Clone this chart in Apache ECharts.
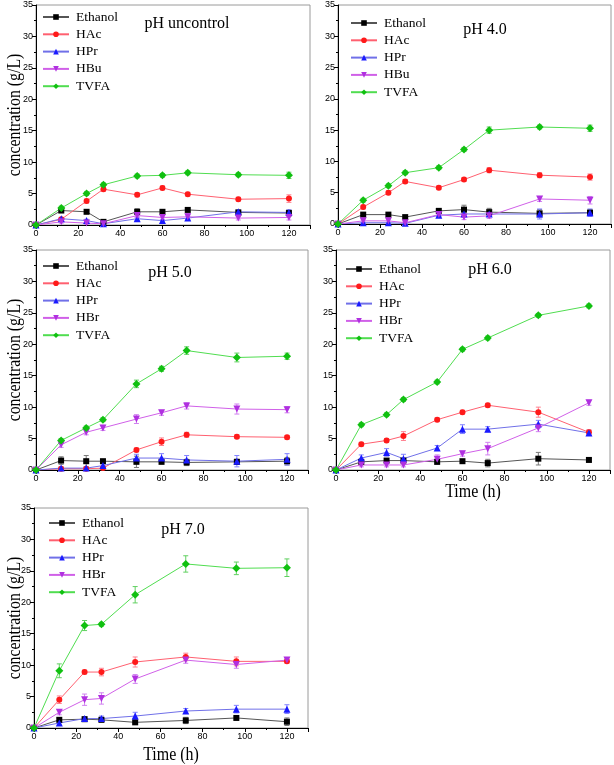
<!DOCTYPE html>
<html>
<head>
<meta charset="utf-8">
<script src="https://cdn.jsdelivr.net/npm/echarts@6/dist/echarts.min.js"></script>
<style>html,body{margin:0;padding:0;background:#fff}#c{width:614px;height:765px}</style>
</head>
<body>
<div id="c"></div>
<script>
// ---- Data ----
const time = [0, 12, 24, 32, 48, 60, 72, 96, 120];
const time7 = [0, 12, 24, 32, 48, 72, 96, 120];

// pH uncontrol
const unEthanol = [0, 2.3, 2.1, 0.5, 2.1, 2.1, 2.4, 2.0, 1.9];
const unHAc     = [0, 0.9, 3.8, 5.7, 4.8, 5.9, 4.9, 4.1, 4.2];
const unHPr     = [0, 1.0, 0.7, 0.2, 1.0, 0.7, 1.1, 2.1, 2.0];
const unHBu     = [0, 0.5, 0.3, 0.2, 1.5, 1.2, 1.3, 1.1, 1.2];
const unTVFA    = [0, 2.7, 5.0, 6.4, 7.8, 7.9, 8.3, 8.0, 7.9];
const unEthanolErr = [0, 0.2, 0.2, 0.2, 0.5, 0.2, 0.3, 0.2, 0.5];
const unHAcErr     = [0, 0.2, 0.3, 0.3, 0.3, 0.3, 0.3, 0.3, 0.6];
const unHPrErr     = [0, 0.2, 0.2, 0.2, 0.3, 0.2, 0.3, 0.3, 0.4];
const unHBuErr     = [0, 0.2, 0.2, 0.2, 0.3, 0.3, 0.5, 0.3, 0.4];
const unTVFAErr    = [0, 0.3, 0.3, 0.3, 0.3, 0.3, 0.3, 0.3, 0.5];

// pH 4.0
const p4Ethanol = [0, 1.5, 1.5, 1.1, 2.1, 2.3, 1.9, 1.7, 1.8];
const p4HAc     = [0, 2.7, 5.0, 6.8, 5.8, 7.1, 8.6, 7.8, 7.5];
const p4HPr     = [0, 0.2, 0.2, 0.1, 1.4, 1.6, 1.6, 1.6, 1.8];
const p4HBu     = [0, 0.5, 0.5, 0.2, 1.5, 1.1, 1.3, 4.0, 3.8];
const p4TVFA    = [0, 3.8, 6.1, 8.2, 9.0, 11.9, 15.0, 15.5, 15.3];
const p4EthanolErr = [0, 0.2, 0.2, 0.2, 0.3, 0.7, 0.6, 0.6, 0.5];
const p4HAcErr     = [0, 0.3, 0.3, 0.3, 0.3, 0.3, 0.4, 0.4, 0.5];
const p4HPrErr     = [0, 0.1, 0.1, 0.1, 0.2, 0.3, 0.3, 0.8, 0.6];
const p4HBuErr     = [0, 0.3, 0.3, 0.2, 0.3, 0.4, 0.4, 0.4, 0.6];
const p4TVFAErr    = [0, 0.3, 0.3, 0.3, 0.3, 0.3, 0.5, 0.3, 0.5];

// pH 5.0
const p5Ethanol = [0, 1.5, 1.4, 1.4, 1.3, 1.3, 1.2, 1.3, 1.4];
const p5HAc     = [0, 0.2, 0.2, 0.3, 3.2, 4.5, 5.6, 5.3, 5.2];
const p5HPr     = [0, 0.3, 0.3, 0.7, 1.9, 1.9, 1.6, 1.4, 1.7];
const p5HBr     = [0, 4.0, 6.0, 6.7, 8.1, 9.1, 10.2, 9.7, 9.6];
const p5TVFA    = [0, 4.7, 6.7, 8.0, 13.7, 16.1, 19.0, 17.9, 18.1];
const p5EthanolErr = [0, 0.6, 0.9, 0.3, 0.9, 0.3, 0.5, 0.4, 0.6];
const p5HAcErr     = [0, 0.2, 0.2, 0.2, 0.3, 0.6, 0.4, 0.3, 0.3];
const p5HPrErr     = [0, 0.2, 0.2, 0.3, 0.6, 0.7, 0.7, 0.9, 0.9];
const p5HBrErr     = [0, 0.4, 0.4, 0.4, 0.7, 0.4, 0.5, 0.8, 0.5];
const p5TVFAErr    = [0, 0.3, 0.3, 0.3, 0.6, 0.4, 0.6, 0.7, 0.5];

// pH 6.0
const p6Ethanol = [0, 1.3, 1.5, 1.5, 1.3, 1.4, 1.1, 1.8, 1.6];
const p6HAc     = [0, 4.1, 4.7, 5.4, 8.0, 9.2, 10.3, 9.2, 6.0];
const p6HPr     = [0, 1.9, 2.8, 1.8, 3.5, 6.5, 6.5, 7.3, 5.9];
const p6HBr     = [0, 0.8, 0.8, 0.8, 1.7, 2.6, 3.4, 6.7, 10.7];
const p6TVFA    = [0, 7.2, 8.8, 11.2, 14.0, 19.2, 21.0, 24.6, 26.1];
const p6EthanolErr = [0, 0.2, 0.3, 0.2, 0.4, 0.2, 0.6, 1.0, 0.2];
const p6HAcErr     = [0, 0.3, 0.3, 0.7, 0.3, 0.3, 0.3, 0.8, 0.4];
const p6HPrErr     = [0, 0.5, 0.6, 0.7, 0.4, 0.7, 0.4, 0.6, 0.4];
const p6HBrErr     = [0, 0.3, 0.3, 0.3, 0.7, 0.4, 1.0, 0.6, 0.4];
const p6TVFAErr    = [0, 0.3, 0.3, 0.3, 0.3, 0.3, 0.3, 0.3, 0.3];

// pH 7.0
const p7Ethanol = [0, 1.3, 1.4, 1.3, 0.9, 1.2, 1.6, 1.0];
const p7HAc     = [0, 4.5, 8.9, 8.9, 10.5, 11.3, 10.6, 10.6];
const p7HPr     = [0, 0.8, 1.5, 1.5, 1.9, 2.7, 3.0, 3.0];
const p7HBr     = [0, 2.5, 4.5, 4.7, 7.8, 10.8, 10.1, 10.8];
const p7TVFA    = [0, 9.1, 16.3, 16.5, 21.2, 26.1, 25.4, 25.5];
const p7EthanolErr = [0, 0.3, 0.3, 0.3, 0.2, 0.5, 0.2, 0.6];
const p7HAcErr     = [0, 0.6, 0.3, 0.6, 0.8, 0.6, 0.7, 0.3];
const p7HPrErr     = [0, 0.3, 0.3, 0.4, 0.6, 0.4, 0.6, 0.7];
const p7HBrErr     = [0, 0.4, 0.9, 0.9, 0.7, 0.5, 0.6, 0.3];
const p7TVFAErr    = [0, 1.1, 0.8, 0.3, 1.3, 1.3, 1.0, 1.4];

const xTicks = [0, 20, 40, 60, 80, 100, 120];
const yTicks = [0, 5, 10, 15, 20, 25, 30, 35];
const yTitle = 'concentration (g/L)';
const xTitle = 'Time (h)';

// ---- Panels (built from the arrays) ----
const panels = [
  { title: 'pH uncontrol', x: time, names: ['Ethanol', 'HAc', 'HPr', 'HBu', 'TVFA'],
    vals: [unEthanol, unHAc, unHPr, unHBu, unTVFA], errs: [unEthanolErr, unHAcErr, unHPrErr, unHBuErr, unTVFAErr] },
  { title: 'pH 4.0', x: time, names: ['Ethanol', 'HAc', 'HPr', 'HBu', 'TVFA'],
    vals: [p4Ethanol, p4HAc, p4HPr, p4HBu, p4TVFA], errs: [p4EthanolErr, p4HAcErr, p4HPrErr, p4HBuErr, p4TVFAErr] },
  { title: 'pH 5.0', x: time, names: ['Ethanol', 'HAc', 'HPr', 'HBr', 'TVFA'],
    vals: [p5Ethanol, p5HAc, p5HPr, p5HBr, p5TVFA], errs: [p5EthanolErr, p5HAcErr, p5HPrErr, p5HBrErr, p5TVFAErr] },
  { title: 'pH 6.0', x: time, names: ['Ethanol', 'HAc', 'HPr', 'HBr', 'TVFA'],
    vals: [p6Ethanol, p6HAc, p6HPr, p6HBr, p6TVFA], errs: [p6EthanolErr, p6HAcErr, p6HPrErr, p6HBrErr, p6TVFAErr] },
  { title: 'pH 7.0', x: time7, names: ['Ethanol', 'HAc', 'HPr', 'HBr', 'TVFA'],
    vals: [p7Ethanol, p7HAc, p7HPr, p7HBr, p7TVFA], errs: [p7EthanolErr, p7HAcErr, p7HPrErr, p7HBrErr, p7TVFAErr] }
];

// ---- Layout & style ----
const layout = [
  { left: 36, top: 5, width: 274, height: 220, yName: true, xName: false, title: [187, 24], legend: [42, 10] },
  { left: 338, top: 5, width: 274, height: 219, yName: false, xName: false, title: [485, 30], legend: [350, 16] },
  { left: 36, top: 250, width: 272, height: 220, yName: true, xName: false, title: [170, 273], legend: [42, 259] },
  { left: 336, top: 250, width: 274, height: 220, yName: false, xName: true, title: [490, 270], legend: [345, 262] },
  { left: 34, top: 508, width: 274, height: 220, yName: true, xName: true, title: [183, 530], legend: [48, 516] }
];
const styles = [
  { mark: '#000000', line: '#555555', err: '#777777', symbol: 'rect', size: 6 },
  { mark: '#ff1a1a', line: '#ff6070', err: '#ff8090', symbol: 'circle', size: 6 },
  { mark: '#1a1aff', line: '#7070e8', err: '#8080ff', symbol: 'triangle', size: 7 },
  { mark: '#b030e0', line: '#d060e8', err: '#d080f0', symbol: 'path://M0,0 L10,0 L5,9 Z', size: 7 },
  { mark: '#10c010', line: '#50dd50', err: '#60d060', symbol: 'diamond', size: 8 }
];
const SERIF = 'Liberation Serif';
const SANS = 'Liberation Sans';

const grids = [], xAxes = [], yAxes = [], series = [], legends = [], graphics = [];
panels.forEach((p, i) => {
  const L = layout[i];
  grids.push({ left: L.left, top: L.top, width: L.width, height: L.height, show: true,
    borderColor: '#9a9a9a', borderWidth: 1, backgroundColor: 'transparent' });
  xAxes.push({
    type: 'value', gridIndex: i, min: 0, max: 130, interval: 20,
    axisLine: { lineStyle: { color: '#000', width: 1 } },
    axisTick: { inside: false, length: 4, lineStyle: { color: '#000' } },
    minorTick: { show: true, splitNumber: 2, length: 2, lineStyle: { color: '#000' } },
    axisLabel: { fontFamily: SANS, fontSize: 9, color: '#000', margin: 4,
      formatter: v => (xTicks.indexOf(v) >= 0 ? String(v) : '') },
    splitLine: { show: false }
  });
  yAxes.push({
    type: 'value', gridIndex: i, min: 0, max: 35, interval: 5,
    axisLine: { show: true, lineStyle: { color: '#000', width: 1 } },
    axisTick: { show: true, inside: false, length: 4, lineStyle: { color: '#000' } },
    minorTick: { show: true, splitNumber: 2, length: 2, lineStyle: { color: '#000' } },
    axisLabel: { fontFamily: SANS, fontSize: 9, color: '#000', margin: 3,
      formatter: v => (yTicks.indexOf(v) >= 0 ? String(v) : '') },
    splitLine: { show: false }
  });
  if (L.yName) {
    graphics.push({
      type: 'text', x: 15, y: L.top + L.height / 2, rotation: Math.PI / 2, scaleX: 0.88,
      style: { text: yTitle, font: '18px "Liberation Serif"', fill: '#000', textAlign: 'center', textVerticalAlign: 'middle' }
    });
  }
  if (L.xName) {
    graphics.push({
      type: 'text', x: L.left + L.width / 2, y: L.top + L.height + (i === 4 ? 27 : 22), scaleX: 0.84,
      style: { text: xTitle, font: '19px "Liberation Serif"', fill: '#000', textAlign: 'center', textVerticalAlign: 'middle' }
    });
  }
  const legendData = [];
  p.names.forEach((nm, k) => {
    const st = styles[k];
    const sname = nm + '#' + i;
    legendData.push(sname);
    const data = p.x.map((t, j) => [t, p.vals[k][j]]);
    const edata = p.x.map((t, j) => [t, p.vals[k][j], p.errs[k][j]]);
    series.push({
      type: 'custom', name: 'err' + i + '_' + k, xAxisIndex: i, yAxisIndex: i, z: 2, silent: true,
      data: edata,
      renderItem: (params, api) => {
        const x = api.value(0), y = api.value(1), e = api.value(2);
        if (!e) return null;
        const top = api.coord([x, y + e]);
        const bot = api.coord([x, y - e]);
        const w = 2.5;
        return { type: 'group', children: [
          { type: 'line', shape: { x1: top[0], y1: top[1], x2: bot[0], y2: bot[1] }, style: { stroke: st.err, lineWidth: 1 } },
          { type: 'line', shape: { x1: top[0] - w, y1: top[1], x2: top[0] + w, y2: top[1] }, style: { stroke: st.err, lineWidth: 1 } },
          { type: 'line', shape: { x1: bot[0] - w, y1: bot[1], x2: bot[0] + w, y2: bot[1] }, style: { stroke: st.err, lineWidth: 1 } }
        ] };
      }
    });
    series.push({
      type: 'line', name: sname, xAxisIndex: i, yAxisIndex: i, z: 3,
      data: data, symbol: st.symbol, symbolSize: st.size, showAllSymbol: true,
      lineStyle: { color: st.line, width: 1 },
      itemStyle: { color: st.mark, borderWidth: 0 },
      animation: false
    });
  });
  legends.push({
    orient: 'vertical', left: L.legend[0], top: L.legend[1], itemWidth: 26, itemHeight: 7, itemGap: 3.3,
    data: legendData, selectedMode: false,
    formatter: n => n.split('#')[0],
    textStyle: { fontFamily: SERIF, fontSize: 13.5, color: '#000', padding: [0, 0, 0, 2] },
    padding: 0
  });
  graphics.push({
    type: 'text', x: L.title[0], y: L.title[1],
    style: { text: p.title, font: '16px "Liberation Serif"', fill: '#000', textAlign: 'center', textVerticalAlign: 'middle' }
  });
});

const chart = echarts.init(document.getElementById('c'), null, { renderer: 'canvas' });
chart.setOption({
  animation: false,
  backgroundColor: '#fff',
  grid: grids, xAxis: xAxes, yAxis: yAxes, series: series, legend: legends, graphic: graphics
});
</script>
</body>
</html>
